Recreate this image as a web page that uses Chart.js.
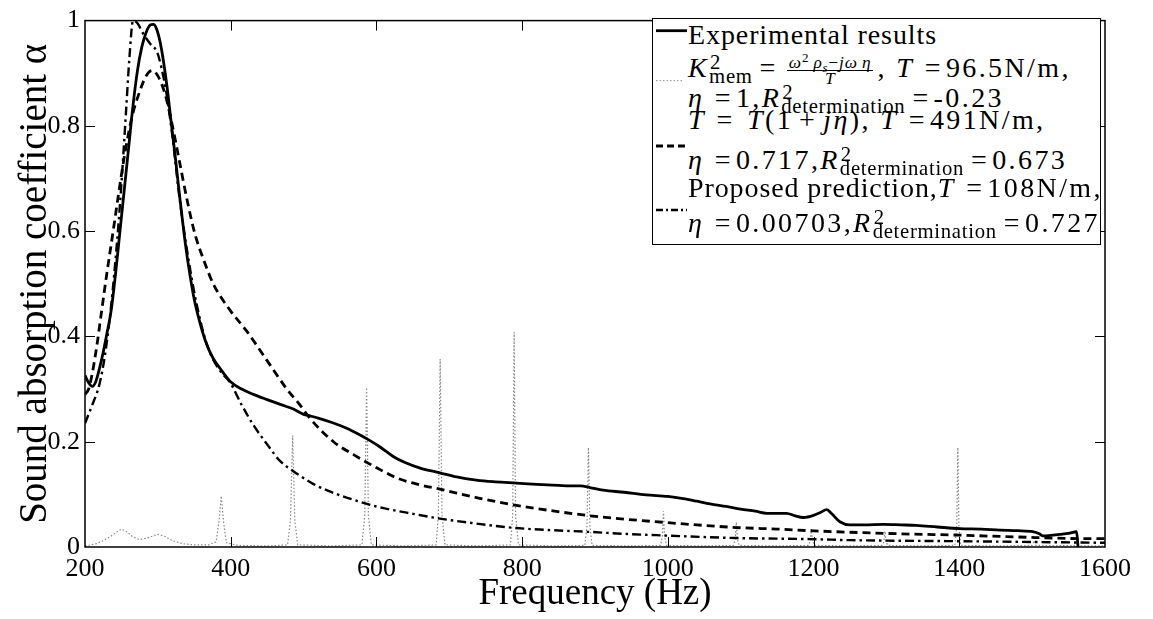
<!DOCTYPE html>
<html><head><meta charset="utf-8">
<script src="https://cdn.jsdelivr.net/npm/chart.js@4.4.1/dist/chart.umd.min.js"></script>
<style>
html,body{margin:0;padding:0;background:#fff;}
#wrap{position:relative;width:1153px;height:619px;overflow:hidden;}
canvas{display:block;}
#legend{position:absolute;left:652px;top:18px;width:449px;height:227px;box-sizing:border-box;border:1px solid #000;background:#fff;font-family:'Liberation Serif','Times New Roman',serif;font-size:28px;color:#000;}
.row{position:absolute;left:35px;white-space:nowrap;line-height:1;letter-spacing:0.9px;}
.m{letter-spacing:2.4px;}
.eq{margin:0 3px 0 1px;}
.op{margin:0 6px;}
.sym{position:absolute;left:0;top:0;}
i{font-style:italic;}
.ss{display:inline-block;position:relative;font-size:0.74em;line-height:1;vertical-align:-0.3em;letter-spacing:0.7px;margin-right:6px;}
.ss .sp{position:absolute;left:1px;top:-0.7em;}
.frac{display:inline-flex;flex-direction:column;align-items:center;position:relative;top:-9px;font-size:0.62em;line-height:0.75;letter-spacing:0.8px;margin:0 4px 0 6px;}
.frac .num{border-bottom:1px solid #000;padding:0 2px 1px 2px;}
.frac .den{padding-top:1px;}
.up{position:relative;top:-0.45em;font-size:0.75em;}
.dn{position:relative;top:0.3em;font-size:0.75em;}
</style>
</head>
<body>
<div id="wrap">
<canvas id="c" width="1153" height="619"></canvas>
<div id="legend">
  <svg class="sym" width="40" height="225">
    <line x1="3" y1="11.7" x2="34" y2="11.7" stroke="#000" stroke-width="2.8"/>
    <line x1="3" y1="61.7" x2="31" y2="61.7" stroke="#888" stroke-width="1" stroke-dasharray="1.5 2"/>
    <line x1="3" y1="127" x2="34" y2="127" stroke="#000" stroke-width="2.8" stroke-dasharray="7 4"/>
    <line x1="3" y1="191" x2="34" y2="191" stroke="#000" stroke-width="2.5" stroke-dasharray="7 3 2 3"/>
  </svg>
  <div class="row" style="top:1.5px">Experimental results</div>
  <div class="row m" style="top:35px"><i>K</i><span class="ss"><span class="sb">mem</span><span class="sp">2</span></span><span class="eq">=</span><span class="frac"><span class="num"><i>ω</i><span class="up">2</span>&#8201;<i>ρ</i><span class="dn"><i>s</i></span>−<i>jω</i>&#8201;<i>η</i></span><span class="den"><i>T</i></span></span>, <i>T</i> <span class="eq">=</span>96.5N/m,</div>
  <div class="row m" style="top:65px"><i>η</i> <span class="eq">=</span>1,<i>R</i><span class="ss"><span class="sb">determination</span><span class="sp">2</span></span><span class="eq">=</span>-0.23</div>
  <div class="row m" style="top:86.5px"><i>T</i> <span class="eq">=</span> <i>T</i>(1<span class="op">+</span><i>jη</i>), <i>T</i> <span class="eq">=</span>491N/m,</div>
  <div class="row m" style="top:127px"><i>η</i> <span class="eq">=</span>0.717,<i>R</i><span class="ss"><span class="sb">determination</span><span class="sp">2</span></span><span class="eq">=</span>0.673</div>
  <div class="row" style="top:154.5px">Proposed prediction,<span class="m"><i>T</i> <span class="eq">=</span>108N/m,</span></div>
  <div class="row m" style="top:190px"><i>η</i> <span class="eq">=</span>0.00703,<i>R</i><span class="ss"><span class="sb">determination</span><span class="sp">2</span></span><span class="eq">=</span>0.727</div>
</div>
</div>
<script>
// ---- tick values ----
const xTicks = [200, 400, 600, 800, 1000, 1200, 1400, 1600];
const yTicks = [0, 0.2, 0.4, 0.6, 0.8, 1];

// ---- Experimental results ----
const expFreq  = [200,205,210,215,220,225,230,236,242,248,254,260,266,272,278,284,290,294,298,303,308,313,318,324,330,336,342,350,358,367,376,385,399,415,431,450,470,486,500,509,520,540,560,573,590,605,623,640,660,687,710,737,760,787,820,850,866,880,893,911,940,970,1000,1021,1040,1058,1080,1100,1120,1136,1150,1163,1175,1186,1200,1210,1218,1225,1236,1250,1270,1296,1320,1341,1370,1401,1430,1456,1480,1501,1510,1515,1525,1538,1550,1561,1563];
const expAlpha = [0.326,0.312,0.305,0.315,0.34,0.37,0.405,0.45,0.52,0.6,0.68,0.76,0.84,0.905,0.95,0.978,0.992,0.993,0.985,0.96,0.92,0.87,0.81,0.74,0.665,0.595,0.535,0.47,0.425,0.385,0.358,0.34,0.315,0.3,0.29,0.28,0.27,0.262,0.252,0.249,0.245,0.236,0.225,0.216,0.203,0.19,0.172,0.16,0.15,0.141,0.133,0.127,0.124,0.122,0.119,0.117,0.116,0.116,0.113,0.108,0.104,0.099,0.096,0.092,0.087,0.082,0.077,0.072,0.068,0.064,0.064,0.064,0.059,0.056,0.06,0.066,0.071,0.063,0.048,0.042,0.042,0.043,0.042,0.041,0.038,0.035,0.034,0.032,0.031,0.029,0.025,0.021,0.022,0.024,0.026,0.029,0.0];

// ---- K_mem^2 = (w^2 rho_s - j w eta)/T, T=96.5 N/m ----
const memFreq  = [200,215,225,235,245,250,256,265,275,285,300,310,320,335,350,370,380,384,387,390,394,410,450,478,482,485,488,492,540,580,584,586.5,589,593,640,682,685,687.5,690,694,740,784,787,789,791,795,845,886,889,891,893,896,950,990,992.5,994,995.5,998,1050,1090,1092.5,1094,1095.5,1098,1150,1193,1195.5,1197,1198.5,1201,1250,1294,1296.5,1298,1299.5,1302,1350,1394,1396.5,1398,1399.5,1402,1450,1500,1503,1505,1600];
const memAlpha = [0.002,0.006,0.012,0.02,0.03,0.034,0.03,0.02,0.014,0.017,0.024,0.02,0.012,0.006,0.004,0.004,0.01,0.05,0.097,0.05,0.008,0.003,0.002,0.004,0.05,0.212,0.05,0.004,0.002,0.004,0.06,0.303,0.06,0.004,0.002,0.004,0.06,0.357,0.06,0.004,0.002,0.004,0.06,0.408,0.06,0.004,0.002,0.003,0.04,0.189,0.04,0.003,0.002,0.003,0.02,0.068,0.02,0.003,0.002,0.003,0.015,0.047,0.015,0.003,0.002,0.003,0.012,0.034,0.012,0.003,0.002,0.003,0.01,0.03,0.01,0.003,0.002,0.003,0.04,0.189,0.04,0.003,0.002,0.003,0.012,0.003,0.002];

// ---- T = T(1+j eta), T=491 N/m ----
const visFreq  = [200,205,210,216,222,230,238,246,255,265,275,284,292,300,310,320,330,340,351,363,376,399,422,449,477,495,509,541,568,601,630,660,687,740,792,840,889,940,993,1040,1094,1150,1195,1250,1320,1401,1480,1570,1600];
const visAlpha = [0.29,0.3,0.33,0.38,0.44,0.52,0.594,0.67,0.75,0.82,0.865,0.895,0.905,0.895,0.86,0.8,0.73,0.66,0.594,0.545,0.5,0.45,0.41,0.356,0.3,0.27,0.244,0.2,0.176,0.15,0.13,0.118,0.11,0.093,0.079,0.069,0.06,0.053,0.047,0.042,0.037,0.034,0.031,0.028,0.025,0.0225,0.019,0.016,0.016];

// ---- Proposed prediction, T=108 N/m ----
const propFreq  = [200,210,220,228,236,244,250,256,261,266,272,280,290,299,305,312,320,330,344,355,366,376,388,399,415,431,450,468,486,513,535,559,600,650,687,740,792,840,889,940,993,1094,1195,1250,1400,1600];
const propAlpha = [0.235,0.27,0.31,0.37,0.46,0.58,0.69,0.82,0.93,1.0,0.995,0.975,0.955,0.94,0.91,0.86,0.78,0.66,0.53,0.45,0.39,0.356,0.33,0.313,0.27,0.232,0.195,0.163,0.144,0.12,0.106,0.094,0.077,0.063,0.054,0.044,0.036,0.032,0.029,0.025,0.022,0.017,0.015,0.013,0.011,0.008];

const pts = (xs, ys) => xs.map((x, i) => ({x: x, y: ys[i]}));
const FONT = "'Liberation Serif','Times New Roman',serif";

const insideTicks = {
  id: 'insideTicks',
  afterDatasetsDraw(chart) {
    const {ctx, chartArea: {left, right, top, bottom}, scales: {x, y}} = chart;
    ctx.save();
    ctx.strokeStyle = '#000';
    ctx.lineWidth = 1;
    const L = 10;
    ctx.beginPath();
    xTicks.forEach(v => {
      const px = Math.round(x.getPixelForValue(v)) + 0.5;
      if (px <= left + 2 || px >= right - 2) return;
      ctx.moveTo(px, bottom); ctx.lineTo(px, bottom - L);
      ctx.moveTo(px, top); ctx.lineTo(px, top + L);
    });
    yTicks.forEach(v => {
      const py = Math.round(y.getPixelForValue(v)) + 0.5;
      if (py <= top + 2 || py >= bottom - 2) return;
      ctx.moveTo(left, py); ctx.lineTo(left + L, py);
      ctx.moveTo(right, py); ctx.lineTo(right - L, py);
    });
    ctx.stroke();
    ctx.lineWidth = 1.5;
    ctx.strokeRect(left, top, right - left, bottom - top);
    ctx.restore();
  }
};

new Chart(document.getElementById('c'), {
  type: 'line',
  data: {
    datasets: [
      {label: 'Experimental results', data: pts(expFreq, expAlpha), borderColor: '#000', borderWidth: 2.8, cubicInterpolationMode: 'monotone', pointRadius: 0, fill: false},
      {label: 'T = T(1 + jη), T =491N/m', data: pts(visFreq, visAlpha), borderColor: '#000', borderWidth: 2.8, borderDash: [8, 5], cubicInterpolationMode: 'monotone', pointRadius: 0, fill: false},
      {label: 'Proposed prediction, T =108N/m', data: pts(propFreq, propAlpha), borderColor: '#000', borderWidth: 2.4, borderDash: [9, 4, 2.5, 4], cubicInterpolationMode: 'monotone', pointRadius: 0, fill: false},
      {label: 'K_mem, T =96.5N/m', data: pts(memFreq, memAlpha), borderColor: '#888', borderWidth: 1.2, borderDash: [1.5, 2], tension: 0, pointRadius: 0, fill: false}
    ]
  },
  options: {
    responsive: false,
    animation: false,
    devicePixelRatio: 1,
    layout: {padding: {left: 0, right: 48, top: 13, bottom: 0}},
    plugins: {legend: {display: false}, tooltip: {enabled: false}},
    scales: {
      x: {
        type: 'linear', min: 200, max: 1600,
        afterBuildTicks: s => { s.ticks = xTicks.map(v => ({value: v})); },
        afterFit: s => { s.height = 72; },
        grid: {display: false, drawTicks: false},
        border: {display: false},
        ticks: {color: '#000', font: {family: FONT, size: 26}, padding: 7, maxRotation: 0, autoSkip: false, callback: v => String(v)},
        title: {display: true, text: 'Frequency (Hz)', color: '#000', font: {family: FONT, size: 37}, padding: {top: 0, bottom: 3}}
      },
      y: {
        type: 'linear', min: 0, max: 1,
        afterBuildTicks: s => { s.ticks = yTicks.map(v => ({value: v})); },
        afterFit: s => { s.width = 85; },
        grid: {display: false, drawTicks: false},
        border: {display: false},
        ticks: {color: '#000', font: {family: FONT, size: 26}, padding: 5, autoSkip: false, callback: v => String(v)},
        title: {display: true, text: 'Sound absorption coefficient α', color: '#000', font: {family: FONT, size: 39}, padding: {top: 12, bottom: 0}}
      }
    }
  },
  plugins: [insideTicks]
});
</script>
</body></html>
